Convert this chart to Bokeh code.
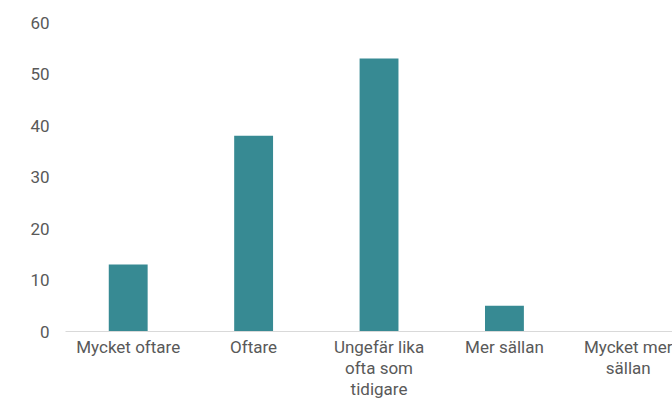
from bokeh.plotting import figure
from bokeh.models import Range1d, FixedTicker, ColumnDataSource
from bokeh.embed import file_html
from bokeh.resources import INLINE

categories = ["Mycket oftare", "Oftare", "Ungefär lika\nofta som\ntidigare", "Mer sällan", "Mycket mer\nsällan"]
values = [13, 38, 53, 5, 0]
y_ticks = [0, 10, 20, 30, 40, 50, 60]

xs = list(range(len(categories)))
src = ColumnDataSource(dict(x=xs, top=values))

p = figure(width=672, height=401, output_backend="svg", toolbar_location=None,
           x_range=Range1d(-0.5, 4.34), y_range=Range1d(0, 60),
           min_border_left=65, min_border_right=0, min_border_top=22, min_border_bottom=69)
p.outline_line_color = None
p.background_fill_color = "white"
p.border_fill_color = "white"

p.vbar(x="x", top="top", width=0.31, bottom=0, source=src, fill_color="#378a93", line_color=None)

p.xgrid.visible = False
p.ygrid.visible = False

font = "Roboto"
gray = "#595959"

xa = p.xaxis[0]
xa.ticker = FixedTicker(ticks=xs)
xa.major_label_overrides = {i: c for i, c in zip(xs, categories)}
xa.axis_line_color = "#d9d9d9"
xa.axis_line_width = 1
xa.major_tick_line_color = None
xa.minor_tick_line_color = None
xa.major_tick_out = 0
xa.major_tick_in = 0
xa.minor_tick_out = 0
xa.minor_tick_in = 0
xa.major_label_text_font = font
xa.major_label_text_font_size = "17px"
xa.major_label_text_color = gray
xa.major_label_text_line_height = 1.05
xa.major_label_standoff = 5

ya = p.yaxis[0]
ya.ticker = FixedTicker(ticks=y_ticks)
ya.axis_line_color = None
ya.major_tick_line_color = None
ya.minor_tick_line_color = None
ya.major_tick_out = 0
ya.major_tick_in = 0
ya.minor_tick_out = 0
ya.minor_tick_in = 0
ya.major_label_text_font = font
ya.major_label_text_font_size = "17px"
ya.major_label_text_color = gray
ya.major_label_standoff = 16

open("out.html", "w").write(file_html(p, INLINE))
